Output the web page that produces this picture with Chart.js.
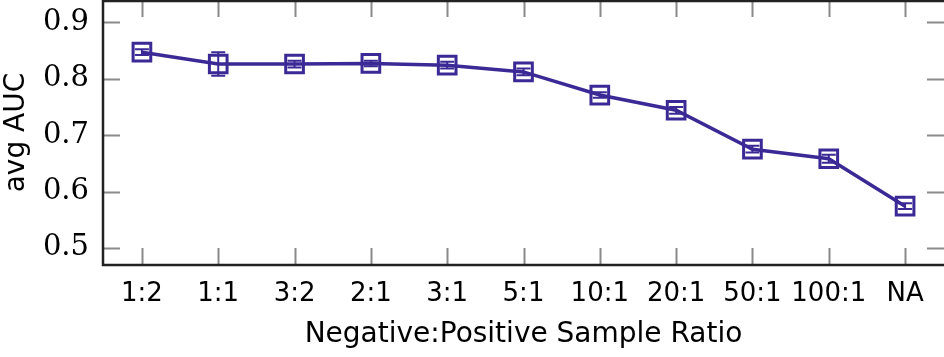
<!DOCTYPE html>
<html>
<head>
<meta charset="utf-8">
<script src="https://cdn.jsdelivr.net/npm/chart.js@4"></script>
<style>
  html,body{margin:0;padding:0;background:#fff;}
  #wrap{width:944px;height:357px;}
</style>
</head>
<body>
<div id="wrap"><canvas id="myChart"></canvas></div>
<script>
const ratios=["1:2","1:1","3:2","2:1","3:1","5:1","10:1","20:1","50:1","100:1","NA"];
const aucMean=[0.847,0.826,0.826,0.827,0.824,0.812,0.771,0.744,0.675,0.658,0.574];
const aucErr=[0.005,0.021,0.006,0.005,0.006,0.006,0.005,0.006,0.006,0.007,0.005];
const yTicks=[0.5,0.6,0.7,0.8,0.9];

const lineColor="#3b2a96";
const sans="'DejaVu Sans', sans-serif";
const serif="'DejaVu Serif', serif";

// error bars + box + inward ticks (pgfplots look)
const frame={
  id:"frame",
  beforeDatasetsDraw(chart){
    const {ctx,chartArea:a,scales:{x,y}}=chart;
    ctx.save();
    ctx.strokeStyle="#8a8a8a";
    ctx.lineWidth=2;
    const tl=17;
    ratios.forEach((r,i)=>{
      const px=Math.round(x.getPixelForValue(i))+0.5;
      ctx.beginPath();
      ctx.moveTo(px,a.bottom);ctx.lineTo(px,a.bottom-tl);
      ctx.moveTo(px,a.top);ctx.lineTo(px,a.top+tl);
      ctx.stroke();
    });
    yTicks.forEach(v=>{
      const py=Math.round(y.getPixelForValue(v))+0.5;
      ctx.beginPath();
      ctx.moveTo(a.left,py);ctx.lineTo(a.left+tl,py);
      ctx.moveTo(a.right,py);ctx.lineTo(a.right-tl,py);
      ctx.stroke();
    });
    ctx.restore();
  },
  afterDatasetsDraw(chart){
    const {ctx,chartArea:a,scales:{x,y}}=chart;
    ctx.save();
    ctx.strokeStyle=lineColor;
    ctx.lineWidth=2;
    aucMean.forEach((m,i)=>{
      const px=x.getPixelForValue(i);
      const y1=y.getPixelForValue(m-aucErr[i]);
      const y2=y.getPixelForValue(m+aucErr[i]);
      ctx.beginPath();
      ctx.moveTo(px,y1);ctx.lineTo(px,y2);
      ctx.moveTo(px-7,y1);ctx.lineTo(px+7,y1);
      ctx.moveTo(px-7,y2);ctx.lineTo(px+7,y2);
      ctx.stroke();
    });
    // axis box
    ctx.strokeStyle="#222";
    ctx.lineWidth=2.5;
    ctx.beginPath();
    ctx.moveTo(a.left,a.top+1);ctx.lineTo(a.right,a.top+1);
    ctx.moveTo(a.left,a.top);ctx.lineTo(a.left,a.bottom);
    ctx.lineTo(a.right,a.bottom);
    ctx.stroke();
    ctx.restore();
  }
};

function noPad(s){s.paddingTop=0;s.paddingBottom=0;s.paddingLeft=0;s.paddingRight=0;}

const ctx=document.getElementById("myChart").getContext("2d");
const myChart=new Chart(ctx,{
  type:"line",
  data:{
    datasets:[{
      data:aucMean.map((v,i)=>({x:i,y:v})),
      borderColor:lineColor,
      borderWidth:3.5,
      backgroundColor:"transparent",
      pointStyle:"rect",
      pointRadius:12.5,
      pointBorderWidth:3,
      pointBorderColor:lineColor,
      pointBackgroundColor:"transparent",
      tension:0
    }]
  },
  plugins:[frame],
  options:{
    responsive:true,
    maintainAspectRatio:false,
    animation:false,
    layout:{autoPadding:false,padding:{top:0,right:0,bottom:5,left:0}},
    plugins:{legend:{display:false},tooltip:{enabled:false}},
    scales:{
      x:{
        type:"linear",
        min:-0.51,max:10.51,
        grid:{display:false,drawTicks:false},
        border:{display:false},
        afterBuildTicks:s=>{s.ticks=ratios.map((r,i)=>({value:i}));},
        afterFit:s=>{s.height=87;noPad(s);},
        ticks:{
          autoSkip:false,maxRotation:0,padding:14,
          color:"#000",
          font:{family:sans,size:26},
          callback:v=>ratios[v]
        },
        title:{display:true,text:"Negative:Positive Sample Ratio",color:"#000",
          font:{family:sans,size:28},padding:{top:0,bottom:0}}
      },
      y:{
        min:0.4697,max:0.9395,
        grid:{display:false,drawTicks:false},
        border:{display:false},
        afterBuildTicks:s=>{s.ticks=yTicks.map(v=>({value:v}));},
        afterFit:s=>{s.width=103;noPad(s);},
        ticks:{
          padding:14,color:"#000",
          font:{family:serif,size:29},
          callback:v=>v.toFixed(1)
        },
        title:{display:true,text:"avg AUC",color:"#000",
          font:{family:sans,size:28},padding:{top:0,bottom:0}}
      }
    }
  }
});
</script>
</body>
</html>
